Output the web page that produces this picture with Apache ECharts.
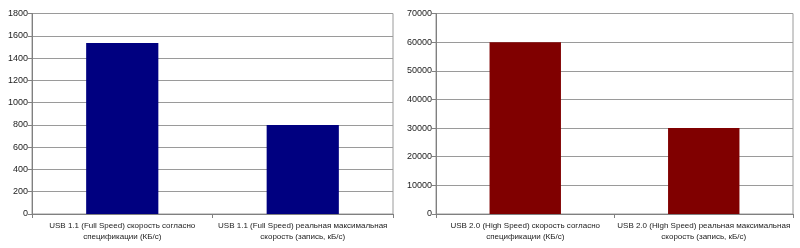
<!DOCTYPE html>
<html><head><meta charset="utf-8">
<script src="https://cdn.jsdelivr.net/npm/echarts@6/dist/echarts.min.js"></script>
<style>html,body{margin:0;padding:0;background:#fff}#c{width:800px;height:248px}</style>
</head><body><div id="c"></div>
<script>
const categoriesUsb11 = ["USB 1.1 (Full Speed) скорость согласно\nспецификации (КБ/с)", "USB 1.1 (Full Speed) реальная максимальная\nскорость (запись, кБ/с)"];
const valuesUsb11 = [1536, 800];
const categoriesUsb20 = ["USB 2.0 (High Speed) скорость согласно\nспецификации (КБ/с)", "USB 2.0 (High Speed) реальная максимальная\nскорость (запись, кБ/с)"];
const valuesUsb20 = [60000, 30000];

const chart = echarts.init(document.getElementById('c'), null, {renderer: 'canvas'});
const font = 'Liberation Sans, Arial, sans-serif';
function xAx(idx, cats) {
  return {
    type: 'category', gridIndex: idx, data: cats,
    axisLine: {lineStyle: {color: '#808080', width: 1}},
    axisTick: {show: true, length: 4, lineStyle: {color: '#808080'}},
    axisLabel: {color: '#222', fontSize: 8, fontFamily: font, margin: 6, lineHeight: 11, interval: 0}
  };
}
function yAx(idx, max, interval) {
  return {
    type: 'value', gridIndex: idx, min: 0, max: max, interval: interval,
    axisLine: {show: true, lineStyle: {color: '#808080', width: 1}},
    axisTick: {show: true, length: 4, lineStyle: {color: '#808080'}},
    axisLabel: {color: '#222', fontSize: 9, fontFamily: font, margin: 4, formatter: v => String(v)},
    splitLine: {show: true, lineStyle: {color: '#9a9a9a', width: 1}}
  };
}
chart.setOption({
  animation: false,
  backgroundColor: '#fff',
  grid: [
    {left: 32, right: 407, top: 13.5, bottom: 34, show: true, borderColor: '#9a9a9a', borderWidth: 1},
    {left: 436, right: 7, top: 13.5, bottom: 34, show: true, borderColor: '#9a9a9a', borderWidth: 1}
  ],
  xAxis: [xAx(0, categoriesUsb11), xAx(1, categoriesUsb20)],
  yAxis: [yAx(0, 1800, 200), yAx(1, 70000, 10000)],
  series: [
    {type: 'bar', xAxisIndex: 0, yAxisIndex: 0, data: valuesUsb11, barWidth: '40%', itemStyle: {color: '#000080'}},
    {type: 'bar', xAxisIndex: 1, yAxisIndex: 1, data: valuesUsb20, barWidth: '40%', itemStyle: {color: '#800000'}}
  ]
});
</script></body></html>
